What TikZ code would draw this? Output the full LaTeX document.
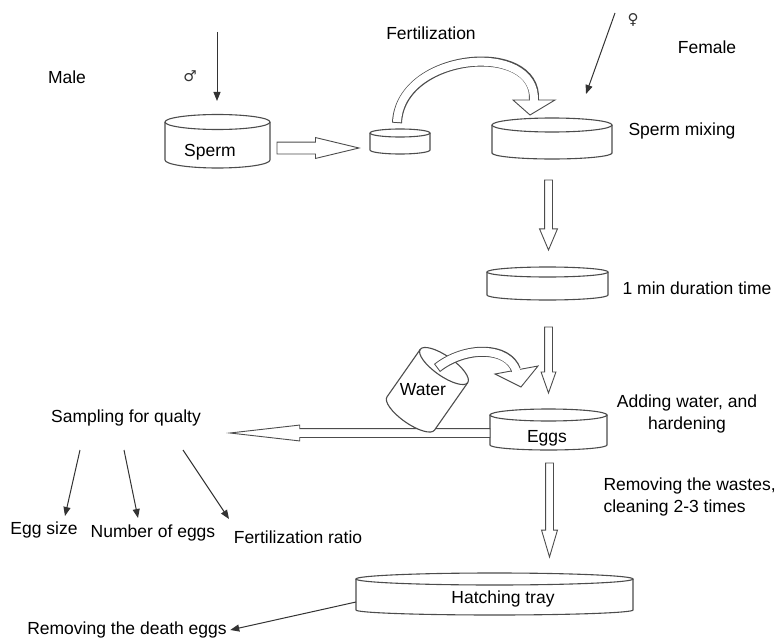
\documentclass[tikz,border=0pt]{standalone}
\usepackage{fontspec}
\setmainfont{Liberation Sans}
\newfontfamily\symbolfont{DejaVu Sans}
\usetikzlibrary{positioning,arrows.meta,shapes.arrows}

\tikzset{
  dishline/.style={line width=1.1pt,draw=black!70},
  bigarrow/.style={single arrow,draw=black!70,fill=white,line width=0.9pt,inner xsep=0pt,outer sep=0pt,single arrow head indent=0pt,anchor=tail},
  thinarrow/.style={-{Triangle[length=9pt,width=7pt]},line width=1pt,black!80},
  sexsign/.style={font=\symbolfont\fontsize{15}{18}\selectfont,black!80},
}

\begin{document}
\begin{tikzpicture}[x=1pt,y=-1pt,font=\fontsize{17.5}{22}\selectfont]
        \useasboundingbox (0,0) rectangle (777,642);
        % dishes
        \draw[dishline] (165,122) -- (165,160) arc[start angle=180,end angle=0,x radius=52.5,y radius=8] -- (270,122);
        \draw[dishline] (217.5,122) ellipse [x radius=52.5,y radius=7.5];
        \draw[dishline] (370,133) -- (370,150) arc[start angle=180,end angle=0,x radius=30,y radius=4] -- (430,133);
        \draw[dishline] (400,133) ellipse [x radius=30,y radius=4];
        \draw[dishline] (492,125) -- (492,153) arc[start angle=180,end angle=0,x radius=60,y radius=6] -- (612,125);
        \draw[dishline] (552,125) ellipse [x radius=60,y radius=7];
        \draw[dishline] (487,272) -- (487,295) arc[start angle=180,end angle=0,x radius=60.5,y radius=5] -- (608,272);
        \draw[dishline] (547.5,272) ellipse [x radius=60.5,y radius=5];
        \draw[dishline] (490,415) -- (490,445) arc[start angle=180,end angle=0,x radius=58.5,y radius=5] -- (607,415);
        \draw[dishline] (548.5,415) ellipse [x radius=58.5,y radius=6];
        \draw[dishline] (356,579) -- (356,610) arc[start angle=180,end angle=0,x radius=138.5,y radius=5] -- (633,579);
        \draw[dishline] (494.5,579) ellipse [x radius=138.5,y radius=6];

        % labels
        \node (male) at (67,77) {Male};
        \node[sexsign] (mars) at (190,76) {♂};
        \node (fert) at (431,33) {Fertilization};
        \node[sexsign] (venus) at (633,20) {♀};
        \node (female) at (707,47) {Female};
        \node (sperm) at (210,152) {Sperm};
        \node (mixing) at (682,131) {Sperm mixing};
        \node (onemin) at (697,288) {1 min duration time};
        \node[align=center] (adding) at (687,414) {Adding water, and\\hardening};
        \node (eggs) at (547,438) {Eggs};
        \node[anchor=west,align=left] (wastes) at (600,497) {Removing the wastes,\\cleaning 2-3 times};
        \node (hatch) at (503,599) {Hatching tray};
        \node (sampling) at (126,418) {Sampling for qualty};
        \node (eggsize) at (44,530) {Egg size};
        \node (number) at (153,533) {Number of eggs};
        \node (ratio) at (298,537) {Fertilization ratio};
        \node (death) at (127,630) {Removing the death eggs};

        % hollow arrows
        \node[bigarrow,minimum height=82pt,inner ysep=5.5pt,single arrow head extend=4.5pt,single arrow tip angle=27] (tosmall) at (277,148) {};
        \node[bigarrow,rotate=-90,minimum height=70pt,inner ysep=3.5pt,single arrow head extend=5pt,single arrow tip angle=46] (toonemin) at (548.5,180) {};
        \node[bigarrow,rotate=-90,minimum height=66pt,inner ysep=3.5pt,single arrow head extend=3.5pt,single arrow tip angle=39] (toeggs) at (548.5,327) {};
        \node[bigarrow,rotate=-90,minimum height=94pt,inner ysep=3.5pt,single arrow head extend=4pt,single arrow tip angle=33] (tohatch) at (549.5,463) {};
        \node[bigarrow,rotate=180,minimum height=260pt,inner ysep=4pt,single arrow head extend=3.5pt,single arrow tip angle=13] (tosampling) at (490,433) {};

        % fertilization curve
        \draw[fill=white,draw=black!70,line width=0.9pt] (513,100) -- (555,100) -- (530,115) -- cycle;
        \draw[black!70,line width=10pt] (397,123) .. controls (400,52) and (538,40) .. (534,100);
        \draw[white,line width=8pt,shorten <=1pt,shorten >=-1.5pt] (397,123) .. controls (400,52) and (538,40) .. (534,100);

        % water bucket
        \begin{scope}[shift={(444,366)},rotate=-35]
        \draw[dishline,fill=white] (-29,0) -- (-29,58) arc[start angle=180,end angle=0,x radius=29,y radius=10] -- (29,0);
        \draw[dishline] (0,0) ellipse [x radius=29,y radius=10];
        \end{scope}
        \node (water) at (423,390) {Water};
        \draw[fill=white,draw=black!70,line width=0.9pt] (495,374) -- (538,366) -- (521,387) -- cycle;
        \draw[black!70,line width=10pt] (437,368) .. controls (465,346) and (508,346) .. (516,370);
        \draw[white,line width=8pt,shorten <=1pt,shorten >=-1.5pt] (437,368) .. controls (465,346) and (508,346) .. (516,370);

        % thin arrows
        \coordinate (maletop) at (217,32);
        \coordinate (spermtop) at (217,101);
        \draw[thinarrow] (maletop) -- (spermtop);
        \coordinate (femaletop) at (615,13);
        \coordinate (mixingin) at (586,94);
        \draw[thinarrow] (femaletop) -- (mixingin);
        \coordinate (s1) at (80,450);
        \coordinate (s2) at (124,450);
        \coordinate (s3) at (183,450);
        \coordinate (e1) at (65,516);
        \coordinate (e2) at (138,518);
        \coordinate (e3) at (229,519);
        \draw[thinarrow] (s1) -- (e1);
        \draw[thinarrow] (s2) -- (e2);
        \draw[thinarrow] (s3) -- (e3);
        \coordinate (hatchside) at (356,602);
        \draw[thinarrow] (hatchside) -- (death.east);
\end{tikzpicture}
\end{document}
